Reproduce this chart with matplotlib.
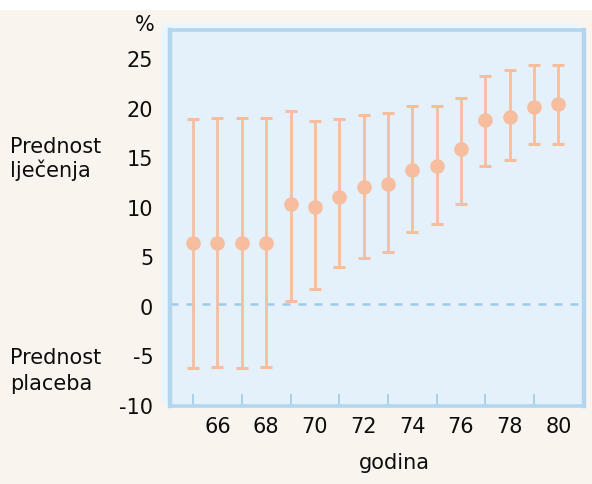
import matplotlib
matplotlib.use("Agg")
import matplotlib.pyplot as plt
from matplotlib.patches import Rectangle, FancyBboxPatch
import numpy as np

years = [65, 66, 67, 68, 69, 70, 71, 72, 73, 74, 75, 76, 77, 78, 79, 80]
estimate = [6.5, 6.5, 6.5, 6.5, 10.4, 10.1, 11.1, 12.15, 12.45, 13.8, 14.2, 15.9, 18.85, 19.2, 20.2, 20.5]
upper = [19.0, 19.1, 19.1, 19.1, 19.8, 18.8, 19.0, 19.4, 19.6, 20.3, 20.3, 21.1, 23.3, 23.9, 24.4, 24.4]
lower = [-6.2, -6.05, -6.2, -6.1, 0.6, 1.8, 4.0, 4.95, 5.5, 7.6, 8.4, 10.4, 14.2, 14.8, 16.4, 16.4]
ytick_vals = [25, 20, 15, 10, 5, 0, -5, -10]
xtick_labels = ["66", "68", "70", "72", "74", "76", "78", "80"]

plt.rcParams['font.family'] = ['DejaVu Sans']
FS = 15
TC = '#0d0d0d'

W, H = 592, 484
fig = plt.figure(figsize=(W / 100, H / 100), dpi=100)
fig.patch.set_facecolor('white')
# cream background below the top white strip
fig.patches.append(Rectangle((0, 0), 1, 1 - 10 / H, transform=fig.transFigure,
                             facecolor='#f9f5ee', edgecolor='none', zorder=-2))
# lighter outer panel halo
fig.patches.append(FancyBboxPatch((161 / W, 1 - 404 / H), (580 - 161) / W, (404 - 23) / H,
                                  boxstyle="round,pad=0,rounding_size=0.01",
                                  transform=fig.transFigure,
                                  facecolor='#ebf5fc', edgecolor='none', zorder=-1))

ax = fig.add_axes([170 / W, 1 - 406 / H, (584 - 170) / W, (406 - 30) / H])
ax.set_facecolor('#e4f1fb')

x = np.array(years)
e = np.array(estimate)
up = np.array(upper)
lo = np.array(lower)
col = '#f7bd9f'
ax.errorbar(x, e, yerr=[e - lo, up - e], fmt='o', color=col, ecolor=col,
            elinewidth=2.0, capsize=4.6, capthick=2.2, markersize=9.5, zorder=3)

ax.axhline(0.25, color='#9fcbea', linestyle=(0, (3.2, 3.2)), linewidth=1.8, zorder=2)

ax.set_xlim(64.05, 81.05)
ax.set_ylim(-9.9, 27.95)

# x ticks: marks at every year, labels on even years
ax.set_xticks(list(range(66, 81, 2)))
ax.set_xticklabels(xtick_labels)
ax.set_xticks(years, minor=True)
ax.tick_params(axis='x', which='major', length=0, pad=8, labelsize=FS, colors=TC)
ax.tick_params(axis='x', which='minor', direction='in', length=9, width=1.2,
               color='#9fcbea', bottom=True, top=False)

ax.set_yticks(ytick_vals)
ax.set_yticklabels([str(v) for v in ytick_vals])
ax.set_yticks([25, 20, 15, 10, 5, -5], minor=True)
ax.tick_params(axis='y', which='major', length=0, pad=12, labelsize=FS, colors=TC)
ax.tick_params(axis='y', which='minor', direction='in', length=8, width=1.2,
               color='#9fcbea', left=True, right=True)

for s in ax.spines.values():
    s.set_color('#b3d6ee')
ax.spines['left'].set_linewidth(3.2)
ax.spines['right'].set_linewidth(3.2)
ax.spines['top'].set_linewidth(2.6)
ax.spines['bottom'].set_linewidth(2.6)

fig.text(145 / W, 1 - 25 / H, '%', ha='center', va='center', fontsize=FS, color=TC)
fig.text(10 / W, 1 - 147 / H, 'Prednost', ha='left', va='center', fontsize=FS, color=TC)
fig.text(10 / W, 1 - 170 / H, 'lječenja', ha='left', va='center', fontsize=FS, color=TC)
fig.text(10 / W, 1 - 358 / H, 'Prednost', ha='left', va='center', fontsize=FS, color=TC)
fig.text(10 / W, 1 - 384 / H, 'placeba', ha='left', va='center', fontsize=FS, color=TC)
fig.text(394 / W, 1 - 463 / H, 'godina', ha='center', va='center', fontsize=FS, color=TC)

fig.savefig('out.png', dpi=100, facecolor=fig.get_facecolor())
